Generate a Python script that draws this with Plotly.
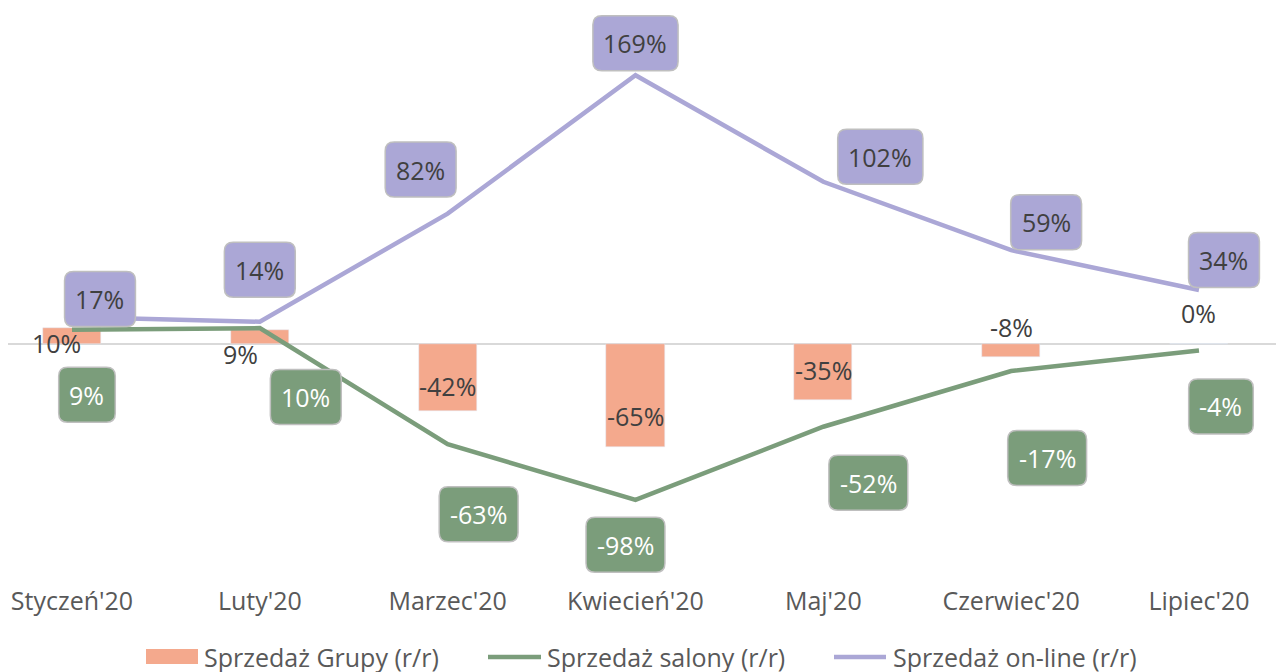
import plotly.graph_objects as go

categories = ["Styczeń'20", "Luty'20", "Marzec'20", "Kwiecień'20", "Maj'20", "Czerwiec'20", "Lipiec'20"]
series_names = ["Sprzedaż Grupy (r/r)", "Sprzedaż salony (r/r)", "Sprzedaż on-line (r/r)"]
grupa = [10, 9, -42, -65, -35, -8, 0]
salony = [9, 10, -63, -98, -52, -17, -4]
online = [17, 14, 82, 169, 102, 59, 34]

# label offsets (pixels) - layout only
grupa_dx = [-15, -19, 0, 0, 0, 0, 0]
grupa_dy = [-15, -24, 25, 31, 30, 30, 31]
salony_dx = [15, 46, 31, -10, 45, 36, 22]
salony_dy = [-65, -69, -70, -45, -56, -87, -56]
online_dx = [28, 0, -27, 0, 57, 35, 25]
online_dy = [18, 52, 44, 32, 25, 28, 30]

C_BAR = "#F4A98D"
C_GREEN = "#7B9D7B"
C_PURPLE = "#ABA7D6"
C_TEXT = "#595959"
C_BORDER = "#BFBFBF"
FONT = "Open Sans"
FS = 25

W, H = 1284, 672
MB = 96
PLOT_H = H - MB

x = list(range(len(categories)))

fig = go.Figure()
fig.add_trace(go.Bar(x=x, y=grupa, name=series_names[0], marker_color=C_BAR, width=0.309))
fig.add_trace(go.Scatter(x=x, y=salony, name=series_names[1], mode="lines",
                         line=dict(color=C_GREEN, width=4.5)))
fig.add_trace(go.Scatter(x=x, y=online, name=series_names[2], mode="lines",
                         line=dict(color=C_PURPLE, width=4.5)))


def box_width(txt):
    w = 28
    for ch in txt:
        w += 8 if ch == "-" else 14.3
    return w


def rrect(cx, cy, w, h, r=9):
    x0, x1 = cx - w / 2, cx + w / 2
    y0, y1 = cy - h / 2, cy + h / 2
    return (f"M{x0 + r},{y0} L{x1 - r},{y0} Q{x1},{y0} {x1},{y0 + r} "
            f"L{x1},{y1 - r} Q{x1},{y1} {x1 - r},{y1} L{x0 + r},{y1} "
            f"Q{x0},{y1} {x0},{y1 - r} L{x0},{y0 + r} Q{x0},{y0} {x0 + r},{y0} Z")


ann = []
shapes = []
for i, v in enumerate(grupa):
    ann.append(dict(x=x[i], y=v, text=f"{v}%", showarrow=False, xshift=grupa_dx[i], yshift=grupa_dy[i],
                    font=dict(family=FONT, size=FS, color="#404040")))

for vals, dxs, dys, fill, tcol in [(salony, salony_dx, salony_dy, C_GREEN, "#FFFFFF"),
                                    (online, online_dx, online_dy, C_PURPLE, "#404040")]:
    for i, v in enumerate(vals):
        t = f"{v}%"
        shapes.append(dict(type="path", xref="x", yref="y", xsizemode="pixel", ysizemode="pixel",
                           xanchor=x[i], yanchor=v, path=rrect(dxs[i], dys[i], box_width(t), 55),
                           fillcolor=fill, line=dict(color=C_BORDER, width=1.5), layer="above"))
        ann.append(dict(x=x[i], y=v, text=t, showarrow=False, xshift=dxs[i], yshift=dys[i],
                        font=dict(family=FONT, size=FS, color=tcol)))


# custom legend (figure pixel coordinates -> paper coords)
def px(xp):
    return xp / W


def py(yp):
    return (PLOT_H - yp) / PLOT_H


LEG_Y = 649
shapes += [
    dict(type="rect", xref="paper", yref="paper", x0=px(138), x1=px(190), y0=py(641), y1=py(656),
         fillcolor=C_BAR, line=dict(width=0)),
    dict(type="line", xref="paper", yref="paper", x0=px(480), x1=px(533), y0=py(LEG_Y), y1=py(LEG_Y),
         line=dict(color=C_GREEN, width=4.5)),
    dict(type="line", xref="paper", yref="paper", x0=px(826), x1=px(878), y0=py(LEG_Y), y1=py(LEG_Y),
         line=dict(color=C_PURPLE, width=4.5)),
]
for name, lx in zip(series_names, [194, 537, 883]):
    ann.append(dict(xref="paper", yref="paper", x=px(lx), y=py(LEG_Y), xanchor="left", yanchor="middle",
                    text=name, showarrow=False, font=dict(family=FONT, size=FS, color=C_TEXT)))

fig.update_layout(
    width=W, height=H,
    margin=dict(l=0, r=0, t=0, b=MB),
    paper_bgcolor="white", plot_bgcolor="white",
    font=dict(family=FONT, size=FS, color=C_TEXT),
    showlegend=False,
    annotations=ann,
    shapes=shapes,
    bargap=0,
)
fig.update_xaxes(tickmode="array", tickvals=x, ticktext=categories, range=[-0.3407, 6.4953],
                 showgrid=False, zeroline=False, showline=False, ticks="",
                 tickfont=dict(family=FONT, size=FS, color=C_TEXT))
fig.update_yaxes(range=[-150.9, 211.3], showgrid=False, showticklabels=False,
                 zeroline=True, zerolinecolor="#D9D9D9", zerolinewidth=1.5)

fig.write_html("out.html")
